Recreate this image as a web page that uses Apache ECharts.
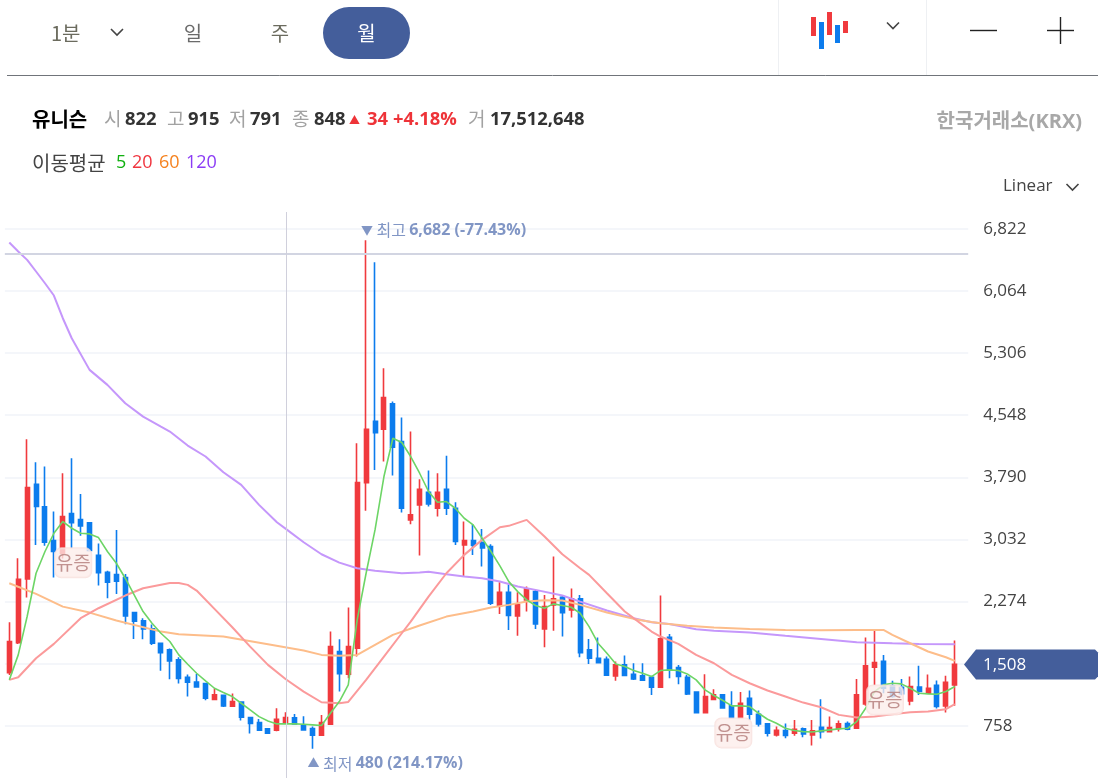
<!DOCTYPE html>
<html lang="ko">
<head>
<meta charset="utf-8">
<title>유니슨</title>
<style>html,body{margin:0;padding:0;background:#fff;overflow:hidden;height:778px}#c{width:1102px;height:800px}</style>
<script src="https://cdn.jsdelivr.net/npm/echarts@6/dist/echarts.min.js"></script>
</head>
<body>
<div id="c"></div>
<script>
const opens  = [1408,1774,2551,3706,3430,3019,2864,3348,3275,3234,2840,2632,2604,2567,2140,2039,1941,1766,1685,1563,1351,1294,1274,1079,1132,997,1050,859,798,721,705,802,855,766,725,644,778,1664,1388,1705,3726,4475,4377,4686,4227,3271,3454,3608,3413,3645,3413,2966,3019,2994,2946,2222,2388,2100,2295,2397,1941,2234,2327,2173,2307,1685,1583,1571,1368,1502,1388,1368,1351,1229,1839,1469,1351,1172,920,1079,1136,1002,859,1095,900,782,648,701,668,721,648,741,688,725,786,729,1026,1473,1547,1246,1230,1063,1233,1156,1254,1002,1258];
const highs  = [2022,2803,4255,3975,3922,3373,3840,4023,3588,3240,2982,2649,3149,2612,2144,2071,1994,1770,1701,1595,1384,1392,1278,1217,1136,1152,1054,863,843,729,973,924,904,875,749,892,1908,1815,2201,4206,6682,6414,5121,4714,4519,4348,3767,3873,3840,4052,3486,3251,3218,3161,2974,2510,2486,2388,2458,2417,2356,2824,2344,2433,2356,1819,1835,1603,1542,1616,1522,1522,1368,2348,1880,1502,1380,1177,1388,1205,1144,1181,1172,1189,945,786,750,786,831,737,831,1083,872,823,810,1331,1835,1937,1624,1307,1331,1360,1490,1384,1311,1368,1799];
const lows   = [1380,1758,2323,2966,2954,2567,2800,2925,3076,2885,2470,2315,2368,1998,1819,1815,1746,1429,1327,1274,1115,1229,1071,1075,989,993,823,664,701,664,692,798,774,701,480,636,770,1176,1339,1603,3381,3881,3982,3812,3360,3218,2836,3434,3312,3332,2966,2580,2844,2701,2234,2124,1929,1856,2153,1941,1717,1917,1847,2079,1595,1514,1526,1372,1307,1364,1319,1311,1136,1221,1339,1266,1136,916,916,1075,969,851,851,831,750,627,627,607,636,619,518,603,676,688,705,725,1002,1258,1156,1100,1130,1010,1136,1152,969,920,1002];
const closes = [1787,2547,3665,3434,2998,2885,3312,3238,3198,2897,2628,2510,2523,2100,2035,1941,1766,1652,1551,1335,1290,1233,1095,1136,1002,1054,863,786,705,668,839,859,782,709,644,798,1725,1395,1725,3726,4377,4336,4763,4157,3413,3332,3645,3466,3608,3413,3007,3019,2962,2929,2254,2388,2104,2238,2429,2002,2213,2307,2140,2307,1652,1583,1530,1376,1502,1372,1331,1315,1229,1819,1449,1360,1148,920,1116,1136,977,859,1034,900,782,668,705,640,717,660,697,688,737,782,717,1136,1490,1530,1217,1116,1150,1238,1177,1217,994,1290,1508];

const ma5 = [1319,1624,2092,2620,2885,3108,3251,3169,3108,3100,3055,2885,2742,2559,2356,2152,2010,1888,1787,1624,1510,1400,1307,1217,1164,1115,1034,953,871,818,782,782,782,778,770,762,912,1054,1258,2051,2620,3149,3800,4267,4215,4044,3840,3617,3486,3495,3413,3291,3210,3047,2885,2710,2518,2396,2295,2226,2193,2246,2226,2205,2132,1969,1766,1644,1514,1481,1433,1400,1359,1433,1441,1433,1392,1319,1197,1128,1067,1002,1002,994,912,839,790,729,701,688,684,697,709,721,729,810,973,1177,1258,1278,1270,1217,1156,1148,1144,1177,1238];
const ma20 = [[0,1319],[1,1351],[3,1583],[5,1758],[8,2071],[10,2193],[13,2348],[15,2437],[18,2502],[19,2502],[20,2478],[21,2409],[23,2185],[25,1961],[27,1725],[29,1502],[31,1327],[33,1176],[35,1046],[37,1034],[38,1050],[40,1319],[42,1604],[44,1888],[45,2030],[47,2335],[49,2620],[51,2844],[53,3027],[55,3181],[56,3198],[58,3271],[60,3068],[62,2852],[64,2681],[65,2600],[67,2376],[69,2153],[71,1990],[72,1909],[73,1848],[75,1758],[77,1624],[79,1522],[81,1380],[83,1278],[85,1189],[87,1116],[89,1042],[91,985],[93,892],[95,859],[97,872],[99,900],[101,924],[103,933],[105,961],[106,1022]];
const ma60 = [[0,2498],[3,2368],[6,2213],[9,2140],[12,2043],[17,1908],[19,1876],[24,1847],[29,1754],[33,1677],[35,1624],[37,1612],[39,1624],[41,1746],[43,1868],[46,1982],[49,2091],[52,2153],[54,2201],[56,2234],[58,2275],[60,2291],[62,2287],[64,2234],[67,2140],[70,2063],[72,2026],[73,2010],[76,1978],[79,1957],[83,1941],[87,1929],[91,1925],[95,1929],[98,1929],[99,1868],[101,1766],[103,1665],[105,1595],[106,1551]];
const ma120 = [[0,6654],[1,6545],[2,6443],[3,6301],[4,6158],[5,6008],[6,5731],[7,5487],[9,5101],[11,4918],[13,4694],[15,4531],[17,4409],[18,4349],[20,4178],[22,4044],[24,3852],[26,3698],[28,3454],[30,3242],[31,3161],[33,2998],[35,2852],[37,2750],[39,2681],[41,2649],[44,2620],[46,2628],[47,2637],[49,2608],[51,2580],[53,2559],[55,2519],[57,2458],[59,2417],[62,2348],[64,2274],[67,2165],[70,2071],[72,2022],[74,2002],[77,1937],[79,1917],[83,1896],[87,1856],[91,1819],[95,1778],[99,1766],[102,1758],[106,1754]];

const tagPoints = [[7,2747],[81,672],[98,1075]];
const tagText = '유증';
const highPoint = [40,6682];
const lowPoint = [34,480];
const crossIndex = 31;
const crossValue = 6516;
const lastPrice = 1508;
const yInterval = 758;

const FONT = '"Open Sans","Noto Sans CJK KR","Noto Sans",sans-serif';
const KR = '"Noto Sans CJK KR","Open Sans",sans-serif';
const categories = Array.from({length: opens.length + 1}, (_, i) => String(i));
const candles = opens.map((o, i) => [o, closes[i], lows[i], highs[i]]);
const fmt = v => String(v).replace(/\B(?=(\d{3})+$)/g, ',');

function lineSeries(name, data, color, width) {
  return {name, type: 'line', data, symbol: 'none', smooth: false, silent: true, z: 3,
    lineStyle: {color, width: width || 2}, itemStyle: {color}};
}

const chart = echarts.init(document.getElementById('c'));
const option = {
  animation: false,
  backgroundColor: '#fff',
  grid: {left: 4.84, top: 212, width: 963.36, height: 576},
  xAxis: {type: 'category', data: categories, boundaryGap: true, axisLine: {show: false},
    axisTick: {show: false}, axisLabel: {show: false}, splitLine: {show: false}},
  yAxis: {type: 'value', position: 'right', min: 0, max: 7027, interval: yInterval, scale: false,
    axisLine: {show: false}, axisTick: {show: false},
    axisLabel: {margin: 15, color: '#444', fontSize: 17, fontFamily: FONT, showMaxLabel: false, showMinLabel: false,
      padding: [2, 0, 0, 0], formatter: v => fmt(v)},
    splitLine: {showMaxLine: false, lineStyle: {color: '#f4f6fa', width: 2}}},
  series: [
    {name: '캔들', type: 'candlestick', data: candles, barWidth: 4.5, silent: true, z: 2, clip: true,
      itemStyle: {color: '#f03a3e', color0: '#0c7ced', borderColor: '#f03a3e', borderColor0: '#0c7ced', borderWidth: 1.6}},
    lineSeries('120', ma120, '#c597fb'),
    lineSeries('60', ma60, '#fdbd8a'),
    lineSeries('20', ma20, '#fb9a9b'),
    lineSeries('5', ma5, '#6dd566', 1.6),
    {name: '십자선', type: 'line', data: [], silent: true, z: 4,
      markLine: {silent: true, symbol: 'none', label: {show: false}, animation: false,
        data: [
          {yAxis: crossValue, lineStyle: {color: '#d2d5e2', width: 2, type: 'solid'}},
          {xAxis: crossIndex, lineStyle: {color: '#d0d0dc', width: 1, type: 'solid'}}
        ]}},
    {name: '유증', type: 'scatter', data: tagPoints, symbolSize: 0, silent: true, z: 6,
      label: {show: true, position: 'inside', offset: [1.5, 0], formatter: tagText, color: '#b27b78', fontFamily: KR, fontSize: 19,
        backgroundColor: 'rgba(253,237,234,0.97)', borderColor: '#f8dfdb', borderWidth: 1, borderRadius: 6,
        width: 36, height: 29, lineHeight: 29, align: 'center', verticalAlign: 'middle'}},
    {name: '최고', type: 'scatter', data: [highPoint], symbolSize: 0, silent: true, z: 6,
      label: {show: true, position: 'right', distance: 0, offset: [-5, -10],
        formatter: '{a|▼} {b|최고} {c|' + fmt(highPoint[1]) + ' (-77.43%)}',
        rich: {a: {color: '#627cb6', fontSize: 12, fontFamily: KR},
               b: {color: '#627cb6', fontSize: 16, fontFamily: KR},
               c: {color: '#627cb6', fontSize: 16, fontWeight: 'bold', fontFamily: FONT}}}},
    {name: '최저', type: 'scatter', data: [lowPoint], symbolSize: 0, silent: true, z: 6,
      label: {show: true, position: 'right', distance: 0, offset: [-5, 15],
        formatter: '{a|▲} {b|최저} {c|' + fmt(lowPoint[1]) + ' (214.17%)}',
        rich: {a: {color: '#627cb6', fontSize: 12, fontFamily: KR},
               b: {color: '#627cb6', fontSize: 16, fontFamily: KR},
               c: {color: '#627cb6', fontSize: 16, fontWeight: 'bold', fontFamily: FONT}}}}
  ]
};
chart.setOption(option);

function T(x, y, text, size, color, weight, family, align) {
  return {type: 'text', x, y, z: 200, silent: true, style: {text, fontSize: size, fill: color,
    fontWeight: weight || 'normal', fontFamily: family || FONT, align: align || 'left', verticalAlign: 'middle'}};
}
function L(x1, y1, x2, y2, color, w) {
  return {type: 'line', z: 200, silent: true, shape: {x1, y1, x2, y2}, style: {stroke: color, lineWidth: w || 1}};
}
function R(x, y, w, h, color, r) {
  return {type: 'rect', z: 200, silent: true, shape: {x, y, width: w, height: h, r: r || 0}, style: {fill: color}};
}
function Chev(cx, cy, color) {
  return {type: 'polyline', z: 200, silent: true, shape: {points: [[cx - 6, cy - 3], [cx, cy + 3], [cx + 6, cy - 3]]},
    style: {stroke: color, lineWidth: 1.6, fill: null}};
}

const priceY = chart.convertToPixel({yAxisIndex: 0}, lastPrice);
const PRICE_BG = '#445e9b';
const grey = '#a2a2a2', dark = '#333', red = '#ee3338';

chart.setOption({graphic: [
  // toolbar
  R(0, 0, 1102, 75, '#fff'),
  T(51, 33, '1분', 20, '#6b6b5e', 'normal', KR),
  Chev(117, 32, '#444'),
  T(193, 33, '일', 20, '#6b6b6b', 'normal', KR, 'center'),
  T(280, 33, '주', 20, '#6b6b5e', 'normal', KR, 'center'),
  R(323, 7, 87, 52, PRICE_BG, 26),
  T(366.5, 33, '월', 20, '#fff', 'normal', KR, 'center'),
  L(778.5, 0, 778.5, 75, '#eef0f3'),
  L(926.5, 0, 926.5, 75, '#eef0f3'),
  R(811, 17, 5, 19, '#f03a3e'), R(819, 22, 5, 27, '#0c7ced'), R(827, 12, 5, 23, '#f03a3e'),
  R(835, 25, 5, 18, '#0c7ced'), R(843, 21, 5, 12, '#f03a3e'),
  Chev(893, 25.5, '#444'),
  L(970, 30.5, 997, 30.5, '#222', 1.4),
  L(1047, 30.5, 1074, 30.5, '#222', 1.4),
  L(1060.5, 17, 1060.5, 44, '#222', 1.4),
  L(7, 75.5, 1098, 75.5, '#70747a', 1),
  // quote line
  T(32, 119, '유니슨', 20, '#000', 'bold', KR),
  T(104, 119, '시', 19, grey, 'normal', KR), T(125, 120, '822', 18.4, dark, 'bold'),
  T(167, 119, '고', 19, grey, 'normal', KR), T(188, 120, '915', 18.4, dark, 'bold'),
  T(229, 119, '저', 19, grey, 'normal', KR), T(250, 120, '791', 18.4, dark, 'bold'),
  T(292, 119, '종', 19, grey, 'normal', KR), T(314, 120, '848', 18.4, dark, 'bold'),
  T(349, 120, '▲', 11, red, 'normal', KR), T(367, 120, '34', 18.4, red, 'bold'), T(393, 120, '+4.18%', 18.4, red, 'bold'),
  T(468, 119, '거', 19, grey, 'normal', KR), T(490, 120, '17,512,648', 18.4, dark, 'bold'),
  T(1082, 122.5, '한국거래소(KRX)', 20, '#a8a8a8', 'bold', FONT, 'right'),
  // moving-average legend
  T(32, 163, '이동평균', 20, '#444', 'normal', KR),
  T(116, 163, '5', 18, '#10b010'), T(132, 163, '20', 18, '#f0353f'),
  T(159, 163, '60', 18, '#f5821f'), T(186, 163, '120', 18, '#8b3cf5'),
  T(1003, 186, 'Linear', 17, '#444'),
  Chev(1072.5, 187, '#444'),
  // current price flag
  {type: 'polygon', z: 200, silent: true,
   shape: {points: [[964, priceY], [976, priceY - 15], [1095, priceY - 15], [1098, priceY - 12], [1098, priceY + 12], [1095, priceY + 15], [976, priceY + 15]]},
   style: {fill: PRICE_BG}},
  T(983, priceY + 1, fmt(lastPrice), 17, '#fff')
]});
</script>
</body>
</html>
